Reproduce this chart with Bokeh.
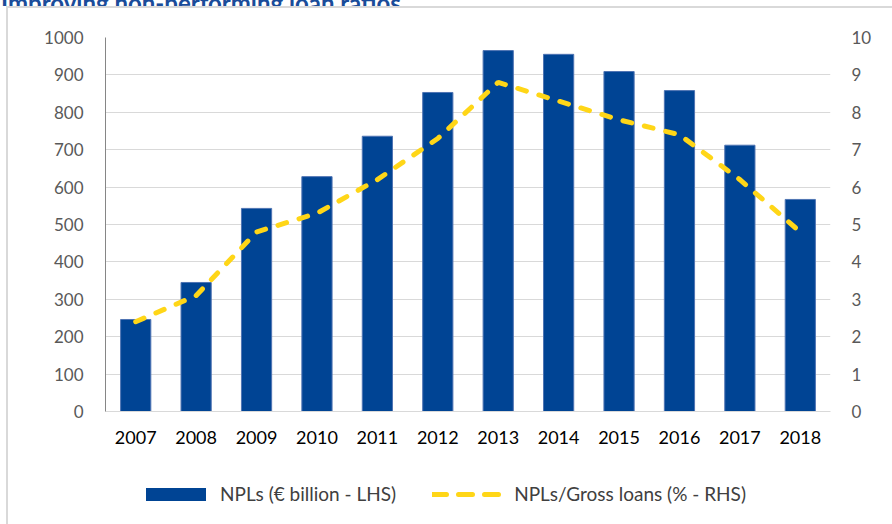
from bokeh.plotting import figure
from bokeh.models import (ColumnDataSource, Range1d, LinearAxis, FactorRange,
                          Legend, LegendItem, FixedTicker, Div)
from bokeh.layouts import column
from bokeh.embed import file_html
from bokeh.resources import INLINE

title_text = "Improving non-performing loan ratios"
years = ["2007", "2008", "2009", "2010", "2011", "2012",
         "2013", "2014", "2015", "2016", "2017", "2018"]
npl_bn = [246, 345, 543, 628, 736, 853, 965, 955, 909, 858, 712, 567]
npl_ratio = [2.4, 3.1, 4.8, 5.3, 6.2, 7.3, 8.8, 8.3, 7.8, 7.4, 6.2, 4.8]
left_ticks = list(range(0, 1001, 100))
right_ticks = list(range(0, 11, 1))
legend_labels = ["NPLs (€ billion - LHS)", "NPLs/Gross loans (% - RHS)"]

FONT = "Lato"
BLUE = "#004494"
YELLOW = "#FFD617"
BAR_EDGE = "#4f74b3"
DASH = "9 13"

src = ColumnDataSource(dict(year=years, npl=npl_bn, ratio=npl_ratio))

p = figure(width=884, height=458, x_range=FactorRange(*years, range_padding=0),
           y_range=Range1d(0, 1000), output_backend="svg", toolbar_location=None,
           min_border_left=97, min_border_right=62, min_border_top=29,
           min_border_bottom=55)
p.extra_y_ranges = {"pct": Range1d(0, 10)}
p.outline_line_color = None

p.vbar(x="year", top="npl", width=0.5, source=src, fill_color=BLUE,
       line_color=BAR_EDGE, line_width=1)
p.line(x="year", y="ratio", source=src, y_range_name="pct",
       line_color=YELLOW, line_width=5, line_dash=DASH, line_cap="round")

# axes
p.yaxis.ticker = FixedTicker(ticks=left_ticks)
p.yaxis.axis_line_color = "#868686"
p.yaxis.major_tick_line_color = None
p.yaxis.minor_tick_line_color = None
p.yaxis.major_label_text_font = FONT
p.yaxis.major_label_text_font_size = "17px"
p.yaxis.major_label_text_color = "#595959"
p.yaxis.major_label_standoff = 16

ra = LinearAxis(y_range_name="pct", ticker=FixedTicker(ticks=right_ticks))
ra.axis_line_color = None
ra.major_tick_line_color = None
ra.minor_tick_line_color = None
ra.major_label_text_font = FONT
ra.major_label_text_font_size = "17px"
ra.major_label_text_color = "#595959"
ra.major_label_standoff = 15
p.add_layout(ra, "right")

p.xaxis.axis_line_color = "#d9d9d9"
p.xaxis.major_tick_line_color = None
p.xaxis.minor_tick_line_color = None
p.xaxis.major_label_text_font = FONT
p.xaxis.major_label_text_font_size = "18px"
p.xaxis.major_label_text_color = "#000000"
p.xaxis.major_label_standoff = 13

p.xgrid.grid_line_color = None
p.ygrid.ticker = FixedTicker(ticks=left_ticks)
p.ygrid.grid_line_color = "#d9d9d9"
p.ygrid.grid_line_width = 1

# legend in its own strip below the chart (proxy renderers lie outside its ranges)
lg = figure(width=884, height=60, output_backend="svg", toolbar_location=None,
            min_border=0, x_range=Range1d(0, 1), y_range=Range1d(0, 1))
lg.axis.visible = False
lg.grid.grid_line_color = None
lg.outline_line_color = None
proxy = ColumnDataSource(dict(x=[-5, -4], y=[-5, -4], top=[-5, -4]))
r_bar = lg.vbar(x="x", top="top", width=0.5, source=proxy, fill_color=BLUE,
                line_color=None)
r_line = lg.line(x="x", y="y", source=proxy, line_color=YELLOW, line_width=5,
                 line_dash="14 12", line_cap="round")
legend = Legend(items=[LegendItem(label=legend_labels[0], renderers=[r_bar]),
                       LegendItem(label=legend_labels[1], renderers=[r_line])],
                orientation="horizontal", location=(33, 21), padding=0, margin=0,
                border_line_color=None, background_fill_alpha=0,
                label_text_font=FONT, label_text_font_size="19px",
                label_text_color="#404040", glyph_width=75, glyph_height=16,
                label_standoff=7, spacing=36)
lg.add_layout(legend, "center")

title = Div(text=(f'<div style="margin-top:-17px; margin-left:1px; font-family:Lato; '
                  f'font-weight:bold; font-size:24px; line-height:24px; '
                  f'color:#1a4c9a; white-space:nowrap">{title_text}</div>'),
            width=884, height=6, margin=0,
            styles={"overflow": "hidden"})

inner = column(p, lg, margin=0, spacing=0,
               styles={"border-top": "2px solid #d9d9d9",
                       "border-left": "2px solid #d9d9d9",
                       "margin-left": "6px"})
layout = column(title, inner, margin=0, spacing=0)

open("out.html", "w").write(file_html(layout, INLINE))
